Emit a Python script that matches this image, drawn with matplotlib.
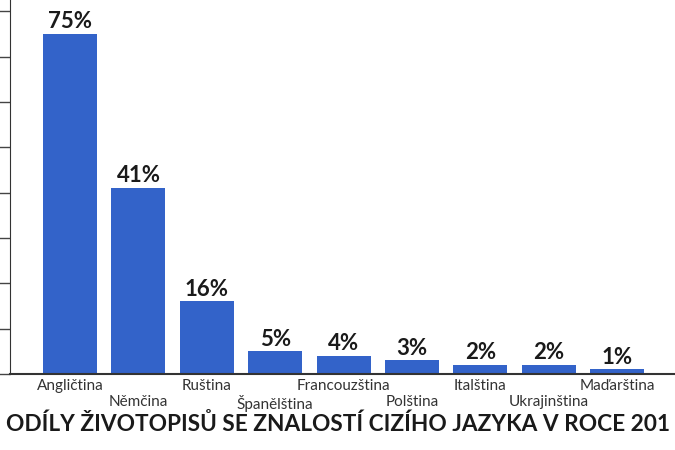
import matplotlib
matplotlib.use("Agg")
import matplotlib.pyplot as plt

categories = ["Angličtina", "Němčina", "Ruština", "Španělština", "Francouzština",
              "Polština", "Italština", "Ukrajinština", "Maďarština"]
values = [75, 41, 16, 5, 4, 3, 2, 2, 1]
value_labels = ["75%", "41%", "16%", "5%", "4%", "3%", "2%", "2%", "1%"]
yticks = [0, 10, 20, 30, 40, 50, 60, 70, 80]
title = "ODÍLY ŽIVOTOPISŮ SE ZNALOSTÍ CIZÍHO JAZYKA V ROCE 201"

plt.rcParams['font.family'] = ['Lato', 'DejaVu Sans']

W, H = 675, 450
fig = plt.figure(figsize=(W / 100, H / 100), dpi=100)
ax_left, ax_bottom = 10 / W, (H - 374) / H
ax = fig.add_axes([ax_left, ax_bottom, 1 - ax_left, 1 - ax_bottom])

x = list(range(len(categories)))
ax.bar(x, values, width=0.79, color="#3363C9", zorder=2)
for xi, v, lab in zip(x, values, value_labels):
    ax.text(xi, v + 0.4, lab, ha="center", va="bottom", fontsize=16,
            fontweight="bold", color="#1a1a1a")

ax.set_xlim(-0.88, 8.85)
ax.set_ylim(0, 82.5)
ax.set_yticks(yticks)
ax.set_yticklabels([])
ax.tick_params(axis="y", direction="out", length=10, width=1, color="#444444")
ax.set_xticks(x)
ax.set_xticklabels([])
ax.tick_params(axis="x", length=0)
for i, c in enumerate(categories):
    ax.annotate(c, xy=(i, 0), xycoords="data",
                xytext=(0, -3.5 if i % 2 == 0 else -15), textcoords="offset points",
                ha="center", va="top", fontsize=11, color="#333333")
ax.spines["top"].set_visible(False)
ax.spines["right"].set_visible(False)
ax.spines["left"].set_color("#333333")
ax.spines["bottom"].set_color("#333333")
ax.spines["bottom"].set_linewidth(1.5)

fig.text(0.5, (H - 424) / H, title, ha="center", va="center", fontsize=16.3,
         fontweight="bold", color="#1a1a1a")

fig.savefig("out.png", dpi=100)
